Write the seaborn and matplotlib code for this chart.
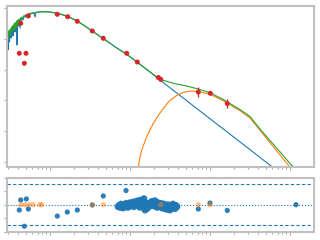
import numpy as np
import matplotlib
matplotlib.use("Agg")
import matplotlib.pyplot as plt
from matplotlib.ticker import NullLocator, FixedLocator
import seaborn as sns

# ---------------- data (log10 wavelength [um], log10 flux density [Jy]) ----------------
star_logwl = [-0.5375, -0.531, -0.525, -0.519, -0.5125, -0.506, -0.5, -0.494, -0.4875, -0.481,
              -0.475, -0.469, -0.4625, -0.456, -0.45, -0.444, -0.4375, -0.431, -0.425, -0.419,
              -0.4125, -0.406, -0.4, -0.394, -0.3875, -0.375, -0.369, -0.3625, -0.35, -0.3375,
              -0.325, -0.3125, -0.3, -0.2875, -0.275, -0.25, -0.225, -0.2, -0.1875, -0.175, -0.15,
              -0.125, -0.0625, 0.0, 0.0625, 0.125, 0.1875, 0.25, 0.3375, 0.4375, 0.525, 0.6625,
              0.8125, 0.9625, 1.0875, 1.25, 1.375, 1.6875, 2.021, 2.375, 2.775, 2.9375]
star_logf = [-0.193, 0.101, -0.356, 0.036, 0.199, -0.095, 0.167, 0.265, 0.036, 0.297,
             0.199, 0.330, 0.101, 0.395, 0.297, 0.428, 0.232, 0.461, 0.363, 0.526,
             -0.193, 0.494, 0.559, 0.428, 0.592, 0.363, 0.657, 0.592, 0.690, 0.624,
             0.739, 0.722, 0.771, 0.755, 0.804, 0.820, 0.837, 0.853, 0.722, 0.869, 0.876,
             0.892, 0.895, 0.886, 0.853, 0.820, 0.771, 0.706, 0.592, 0.428, 0.265, 0.026,
             -0.252, -0.503, -0.748, -1.075, -1.337, -1.971, -2.644, -3.359, -4.170, -4.5]

total_logwl = [-0.5375, -0.531, -0.525, -0.519, -0.5125, -0.506, -0.5, -0.494, -0.4875, -0.481,
               -0.475, -0.469, -0.4625, -0.456, -0.45, -0.444, -0.4375, -0.431, -0.425, -0.419,
               -0.4125, -0.406, -0.4, -0.394, -0.3875, -0.375, -0.369, -0.3625, -0.35, -0.3375,
               -0.325, -0.3125, -0.3, -0.2875, -0.275, -0.25, -0.225, -0.2, -0.1875, -0.175, -0.15,
               -0.125, -0.0625, 0.0, 0.0625, 0.125, 0.1875, 0.25, 0.3375, 0.4375, 0.525, 0.6625,
               0.8125, 0.9625, 1.0875, 1.25, 1.375, 1.541, 1.709, 1.854, 2.0, 2.166, 2.375, 2.5,
               2.625, 2.75, 2.875, 3.0, 3.0875]
total_logf = [0.036, 0.199, -0.029, 0.265, 0.167, 0.297, 0.134, 0.330, 0.265, 0.395,
              0.232, 0.428, 0.330, 0.461, 0.363, 0.526, 0.297, 0.526, 0.428, 0.592,
              0.395, 0.592, 0.624, 0.526, 0.657, 0.592, 0.690, 0.657, 0.722, 0.690,
              0.771, 0.755, 0.804, 0.788, 0.820, 0.837, 0.853, 0.866, 0.837, 0.876, 0.882,
              0.892, 0.895, 0.886, 0.853, 0.820, 0.771, 0.706, 0.592, 0.428, 0.265, 0.026,
              -0.252, -0.503, -0.748, -1.075, -1.314, -1.444, -1.533, -1.631, -1.752, -1.974,
              -2.301, -2.529, -2.938, -3.314, -3.683, -4.065, -4.310]

dust_logwl = [1.094, 1.104, 1.125, 1.146, 1.209, 1.291, 1.396, 1.491, 1.584, 1.6625, 1.75,
              1.854, 2.0, 2.166, 2.375, 2.5, 2.625, 2.75, 2.875, 2.991, 3.0375]
dust_logf = [-4.343, -4.170, -3.853, -3.624, -3.190, -2.752, -2.333, -2.023, -1.843, -1.745,
             -1.696, -1.712, -1.804, -2.013, -2.340, -2.578, -2.980, -3.382, -3.784, -4.157, -4.304]

phot_logwl = [-0.366, -0.271, 0.091, 0.221, 0.341, 0.529, 0.666, 0.959, 1.091, 1.354, 1.384,
              1.854, 2.004, 2.216, -0.384, -0.300, -0.321]
phot_logf = [0.516, 0.755, 0.810, 0.732, 0.582, 0.265, 0.026, -0.464, -0.748, -1.255, -1.314,
             -1.729, -1.771, -2.105, -0.464, -0.464, -0.791]
phot_err_dex = [0.02, 0.02, 0.02, 0.02, 0.02, 0.02, 0.02, 0.02, 0.02, 0.05, 0.05,
                0.15, 0.05, 0.15, 0.02, 0.02, 0.02]

# residuals (chi) of photometry
res_logwl = [-0.366, -0.296, -0.384, -0.271, -0.321, 0.091, 0.216, 0.341, 0.529, 0.666, 0.95,
             1.384, 1.854, 2.0, 2.216, 3.075]
res_val = [0.70, 0.85, -0.79, -0.64, -3.19, -1.69, -1.09, -0.79, -0.04, 1.30, 2.10,
           0.0, -0.64, 0.25, -0.85, 0.0]

# residuals of spectrum
spec_res_logwl = [0.850, 0.8625, 0.875, 0.8875, 0.900, 0.9125, 0.925, 0.9375, 0.950, 0.9625,
                  0.975, 0.9875, 1.000, 1.0125, 1.025, 1.0375, 1.050, 1.0625, 1.075, 1.0875,
                  1.100, 1.1125, 1.125, 1.1375, 1.150, 1.1625, 1.175, 1.1875, 1.200, 1.2125,
                  1.225, 1.2375, 1.250, 1.2625, 1.275, 1.2875, 1.300, 1.3125, 1.325, 1.3375,
                  1.350, 1.3625, 1.375, 1.3875, 1.400, 1.4125, 1.425, 1.4375, 1.450, 1.4625,
                  1.475, 1.4875, 1.500, 1.5125, 1.525, 1.5375, 1.550, 1.5625, 1.575, 1.5875]
spec_res_val = [-0.3, -0.1, -0.4, 0.1, -0.2, -0.5, 0.0, -0.3, 0.2, -0.1,
                -0.4, 0.1, 0.3, -0.2, 0.0, 0.4, -0.3, 0.2, 0.5, -0.1,
                0.6, 0.2, -0.4, 0.7, 0.3, -0.2, 0.9, -0.8, 0.1, -0.6,
                0.2, -0.3, 0.3, -0.1, 0.5, 0.4, -0.2, 0.6, 0.1, -0.4,
                0.3, 0.0, -0.3, 0.2, -0.5, -0.2, 0.1, -0.6, -0.3, -0.7,
                0.0, -0.4, -0.8, -0.2, -0.5, 0.1, -0.3, -0.6, -0.1, -0.3]

# excluded / zero-residual points
zero_logwl = [-0.366, -0.3125, -0.259, -0.209, -0.125, -0.104, 0.529, 0.666, 1.384, 1.854, 2.0]
zero_val = [0.0] * 11

chi_lines = [-3, 3]

# ---------------- plotting ----------------
sns.set_style("white")
fig = plt.figure(figsize=(3.2, 2.4), dpi=100)
ax = fig.add_axes([7 / 320, 1 - 166.5 / 240, 307 / 320, 161 / 240])
ax2 = fig.add_axes([7 / 320, 1 - 231.7 / 240, 307 / 320, 54 / 240])

for a in (ax, ax2):
    a.set_xscale("log")
ax.set_yscale("log")

p = lambda v: 10 ** np.asarray(v, dtype=float)

lw = 0.8
sns.lineplot(x=p(star_logwl), y=p(star_logf), ax=ax, color="C0", lw=lw, sort=False, estimator=None)
sns.lineplot(x=p(dust_logwl), y=p(dust_logf), ax=ax, color="C1", lw=lw, sort=False, estimator=None)
sns.lineplot(x=p(total_logwl), y=p(total_logf), ax=ax, color="C2", lw=lw, sort=False, estimator=None)

pf = p(phot_logf)
err = np.asarray(phot_err_dex)
ax.errorbar(p(phot_logwl), pf, yerr=[pf - pf * 10 ** (-err), pf * 10 ** err - pf],
            fmt="none", ecolor="C3", elinewidth=0.9, capsize=0, zorder=4)
sns.scatterplot(x=p(phot_logwl), y=pf, ax=ax, color="C3", s=13, edgecolor="none", zorder=5)

ax.set_xlim(10 ** -0.5375, 10 ** 3.3)
ax.set_ylim(10 ** -4.163, 10 ** 1.098)
ax.yaxis.set_major_locator(FixedLocator([1e-4, 1e-3, 1e-2, 1e-1, 1, 10]))
ax.yaxis.set_minor_locator(NullLocator())

# residual panel
for v in chi_lines:
    ax2.axhline(v, color="C0", lw=0.8, ls=(0, (3, 2)), zorder=1)
ax2.axhline(0, color="C0", lw=0.8, ls=":", zorder=1)
sns.scatterplot(x=p(spec_res_logwl), y=spec_res_val, ax=ax2, color="C0", s=24, edgecolor="none",
                alpha=0.95, zorder=3)
sns.scatterplot(x=p(res_logwl), y=res_val, ax=ax2, color="C0", s=14, edgecolor="none",
                alpha=0.95, zorder=3)
sns.scatterplot(x=p(zero_logwl), y=zero_val, ax=ax2, color="C1", s=14, edgecolor="none",
                alpha=0.5, zorder=4)
ax2.set_xlim(10 ** -0.5375, 10 ** 3.3)
ax2.set_ylim(-4, 4)
ax2.yaxis.set_major_locator(FixedLocator([-4, -2, 0, 2, 4]))
ax2.yaxis.set_minor_locator(NullLocator())

for a in (ax, ax2):
    a.set_xlabel("")
    a.set_ylabel("")
    for s in a.spines.values():
        s.set_visible(True)
        s.set_color("#c0c0c0")
        s.set_linewidth(1.5)
    a.tick_params(which="both", direction="out", color="#aaaaaa", width=0.8,
                  labelleft=False, labelbottom=False, left=True, bottom=True)
    a.tick_params(which="major", length=2)
    a.tick_params(which="minor", length=1.5)

fig.savefig("out.png", dpi=100)
